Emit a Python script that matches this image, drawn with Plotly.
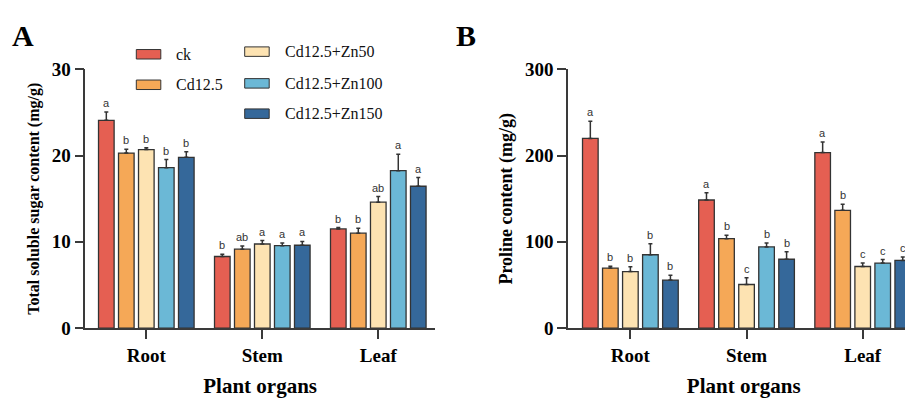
import plotly.graph_objects as go

W, H = 913, 398

organs = ["Root", "Stem", "Leaf"]
treatments = ["ck", "Cd12.5", "Cd12.5+Zn50", "Cd12.5+Zn100", "Cd12.5+Zn150"]
colors = ["#E55F52", "#F5A857", "#FDE3B2", "#6BB8D6", "#35689A"]

# Panel A: total soluble sugar (mg/g)
sugar_ck = [24.1, 8.3, 11.5]
sugar_cd = [20.3, 9.15, 11.0]
sugar_zn50 = [20.7, 9.75, 14.6]
sugar_zn100 = [18.6, 9.55, 18.25]
sugar_zn150 = [19.8, 9.6, 16.45]
sugar_ck_err = [0.95, 0.25, 0.15]
sugar_cd_err = [0.45, 0.37, 0.58]
sugar_zn50_err = [0.2, 0.4, 0.65]
sugar_zn100_err = [0.95, 0.3, 1.9]
sugar_zn150_err = [0.65, 0.45, 1.0]
sugar_ck_sig = ["a", "b", "b"]
sugar_cd_sig = ["b", "ab", "b"]
sugar_zn50_sig = ["b", "a", "ab"]
sugar_zn100_sig = ["b", "a", "a"]
sugar_zn150_sig = ["b", "a", "a"]

# Panel B: proline (mg/g)
pro_ck = [220, 148.5, 203.5]
pro_cd = [69.6, 103.6, 136.6]
pro_zn50 = [65.5, 50.5, 71.4]
pro_zn100 = [85, 94.1, 75.4]
pro_zn150 = [55.6, 79.8, 78.4]
pro_ck_err = [20, 8.3, 12.4]
pro_cd_err = [2.2, 4.1, 6.9]
pro_zn50_err = [5.5, 7.7, 4.0]
pro_zn100_err = [12.8, 4.4, 4.1]
pro_zn150_err = [5.5, 8.8, 4.0]
pro_ck_sig = ["a", "a", "a"]
pro_cd_sig = ["b", "b", "b"]
pro_zn50_sig = ["b", "c", "c"]
pro_zn100_sig = ["b", "b", "c"]
pro_zn150_sig = ["b", "b", "c"]

sugar_means = [sugar_ck, sugar_cd, sugar_zn50, sugar_zn100, sugar_zn150]
sugar_errs = [sugar_ck_err, sugar_cd_err, sugar_zn50_err, sugar_zn100_err, sugar_zn150_err]
sugar_sigs = [sugar_ck_sig, sugar_cd_sig, sugar_zn50_sig, sugar_zn100_sig, sugar_zn150_sig]
pro_means = [pro_ck, pro_cd, pro_zn50, pro_zn100, pro_zn150]
pro_errs = [pro_ck_err, pro_cd_err, pro_zn50_err, pro_zn100_err, pro_zn150_err]
pro_sigs = [pro_ck_sig, pro_cd_sig, pro_zn50_sig, pro_zn100_sig, pro_zn150_sig]

BARGAP = 0.138
BARGROUPGAP = 0.22
SERIF = "Liberation Serif"
SANS = "Liberation Sans"
AXC = "#3a3a3a"

def px(x):
    return x / W

def py(y):
    return 1 - y / H

fig = go.Figure()
annotations = []
slot = (1 - BARGAP) / len(treatments)

for panel, (means, errs, sigs, xa, ya) in enumerate([
        (sugar_means, sugar_errs, sugar_sigs, "x", "y"),
        (pro_means, pro_errs, pro_sigs, "x2", "y2")]):
    for j, name in enumerate(treatments):
        fig.add_trace(go.Bar(
            x=organs, y=means[j], name=name, xaxis=xa, yaxis=ya,
            marker=dict(color=colors[j], line=dict(color="#333333", width=1.3)),
            error_y=dict(type="data", array=errs[j], arrayminus=[0] * len(organs),
                         symmetric=False, color="#333333", thickness=1.5, width=2),
            showlegend=False,
        ))
        for i in range(len(organs)):
            annotations.append(dict(
                x=i + (j - (len(treatments) - 1) / 2) * slot,
                y=means[j][i] + errs[j][i], xref=xa, yref=ya,
                text=sigs[j][i], showarrow=False, yanchor="bottom", yshift=1,
                font=dict(family=SANS, size=11, color="#333333"),
            ))

axis_common = dict(showline=True, linecolor=AXC, linewidth=1.5, ticks="outside",
                   ticklen=9, tickwidth=1.5, tickcolor=AXC, showgrid=False,
                   zeroline=False)

# legend (drawn manually, GraphPad style)
leg_items = [
    (0, 128.3, 38.3, 166), (1, 128.3, 70.5, 166),
    (2, 236.7, 35.5, 275), (3, 236.7, 69.0, 275), (4, 236.7, 101.0, 275),
]
shapes = []
for j, x0, yc, tx in leg_items:
    shapes.append(dict(type="rect", xref="paper", yref="paper",
                       x0=px(x0), x1=px(x0 + 24.5), y0=py(yc + 5), y1=py(yc - 5),
                       fillcolor=colors[j], line=dict(color="#333333", width=1)))
    annotations.append(dict(x=px(tx), y=py(yc), xref="paper", yref="paper",
                            text=treatments[j], showarrow=False, xanchor="left",
                            yanchor="middle",
                            font=dict(family=SERIF, size=16, color="#111111")))

for label, xc in [("A", 14.5), ("B", 457.5)]:
    annotations.append(dict(x=px(xc), y=py(19), xref="paper", yref="paper",
                            text=label, showarrow=False, xanchor="center",
                            yanchor="middle",
                            font=dict(family=SERIF, size=30, color="#000000", weight="bold")))

tickf = dict(family=SERIF, size=19, color="#000", weight="bold")

fig.update_layout(
    width=W, height=H,
    margin=dict(l=0, r=0, t=0, b=0),
    paper_bgcolor="white", plot_bgcolor="white",
    barmode="group", bargap=BARGAP, bargroupgap=BARGROUPGAP,
    annotations=annotations, shapes=shapes,
    xaxis=dict(domain=[px(77.3), px(427)], range=[-0.526, 2.489], type="category",
               anchor="y", tickfont=tickf,
               title=dict(text="Plant organs", standoff=14,
                          font=dict(family=SERIF, size=21, color="#000", weight="bold")),
               **axis_common),
    yaxis=dict(domain=[py(327.3), py(54.3)], range=[0, 30], tickvals=[0, 10, 20, 30],
               anchor="x", tickfont=tickf,
               title=dict(text="Total soluble sugar content (mg/g)", standoff=8,
                          font=dict(family=SERIF, size=16, color="#000", weight="bold")),
               **axis_common),
    xaxis2=dict(domain=[px(560), px(911.5)], range=[-0.537, 2.489], type="category",
                anchor="y2", tickfont=tickf,
                title=dict(text="Plant organs", standoff=14,
                           font=dict(family=SERIF, size=21, color="#000", weight="bold")),
                **axis_common),
    yaxis2=dict(domain=[py(327.3), py(54.3)], range=[0, 300], tickvals=[0, 100, 200, 300],
                anchor="x2", tickfont=tickf,
                title=dict(text="Proline content (mg/g)", standoff=8,
                           font=dict(family=SERIF, size=18, color="#000", weight="bold")),
                **axis_common),
)

fig.write_html("out.html")
